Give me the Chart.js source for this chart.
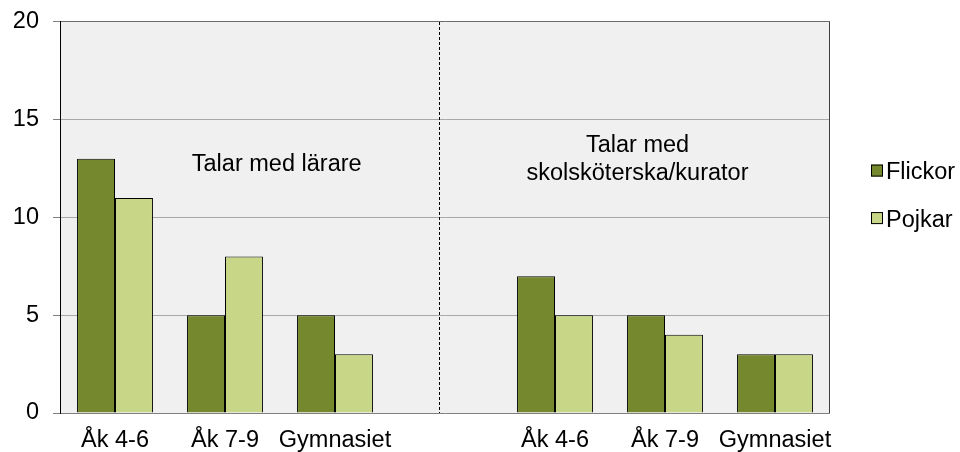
<!DOCTYPE html>
<html>
<head>
<meta charset="utf-8">
<script src="https://cdn.jsdelivr.net/npm/chart.js@4.4.1/dist/chart.umd.min.js"></script>
<style>
  html, body { margin: 0; padding: 0; background: #ffffff; }
  #wrap { width: 960px; height: 452px; }
</style>
</head>
<body>
<div id="wrap"><canvas id="c" width="960" height="452"></canvas></div>
<script>
const categories = ['Åk 4-6', 'Åk 7-9', 'Gymnasiet', '', 'Åk 4-6', 'Åk 7-9', 'Gymnasiet'];
const flickor = [13, 5, 5, null, 7, 5, 3];
const pojkar = [11, 8, 3, null, 5, 4, 3];
const yTicks = [0, 5, 10, 15, 20];
const seriesNames = ['Flickor', 'Pojkar'];
const groupLabels = [['Talar med lärare'], ['Talar med', 'skolsköterska/kurator']];

const FONT = '"Liberation Sans", Arial, sans-serif';
const FS = 23.5;
const colors = ['#76882e', '#c8d787'];

const decorPlugin = {
  id: 'decor',
  beforeDraw(chart) {
    const { ctx, chartArea: a } = chart;
    ctx.save();
    ctx.fillStyle = '#f0f0f0';
    ctx.fillRect(a.left, a.top, a.right - a.left, a.bottom - a.top);
    ctx.restore();
  },
  afterDatasetsDraw(chart) {
    const { ctx, chartArea: a, scales } = chart;
    const xs = scales.x, ys = scales.y;
    ctx.save();
    // right border
    ctx.strokeStyle = '#404040';
    ctx.lineWidth = 1;
    ctx.beginPath();
    ctx.moveTo(Math.round(a.right) - 0.5, a.top);
    ctx.lineTo(Math.round(a.right) - 0.5, a.bottom);
    ctx.stroke();
    // divider
    const dx = Math.round(xs.getPixelForValue(2.945)) + 0.5;
    ctx.strokeStyle = '#000000';
    ctx.setLineDash([3, 2]);
    ctx.beginPath();
    ctx.moveTo(dx, a.top);
    ctx.lineTo(dx, a.bottom);
    ctx.stroke();
    ctx.setLineDash([]);
    // group annotations
    ctx.fillStyle = '#000000';
    ctx.font = FS + 'px ' + FONT;
    ctx.textAlign = 'center';
    ctx.textBaseline = 'alphabetic';
    ctx.fillText(groupLabels[0][0], xs.getPixelForValue(1.47), ys.getPixelForValue(12.4));
    ctx.fillText(groupLabels[1][0], xs.getPixelForValue(4.75), ys.getPixelForValue(13.35));
    ctx.fillText(groupLabels[1][1], xs.getPixelForValue(4.75), ys.getPixelForValue(11.92));
    // legend
    const lx = a.right + 41;
    const ly = [ys.getPixelForValue(12.4), ys.getPixelForValue(9.97)];
    chart.data.datasets.forEach((ds, i) => {
      ctx.fillStyle = ds.backgroundColor;
      ctx.fillRect(lx, ly[i] - 6, 12, 12);
      ctx.strokeStyle = '#000000';
      ctx.lineWidth = 1;
      ctx.strokeRect(lx + 0.5, ly[i] - 5.5, 11, 11);
      ctx.fillStyle = '#000000';
      ctx.textAlign = 'left';
      ctx.textBaseline = 'middle';
      ctx.fillText(ds.label, lx + 15, ly[i] + 2);
    });
    ctx.restore();
  }
};

new Chart(document.getElementById('c'), {
  type: 'bar',
  data: {
    labels: categories,
    datasets: [
      { label: seriesNames[0], data: flickor, backgroundColor: colors[0], borderColor: '#000000', borderWidth: 1 },
      { label: seriesNames[1], data: pojkar, backgroundColor: colors[1], borderColor: '#000000', borderWidth: 1 }
    ]
  },
  options: {
    responsive: false,
    devicePixelRatio: 1,
    animation: false,
    layout: { padding: { left: 0, right: 130, top: 8, bottom: 0 } },
    plugins: { legend: { display: false }, tooltip: { enabled: false } },
    datasets: { bar: { barPercentage: 1.0, categoryPercentage: 0.69 } },
    scales: {
      x: {
        afterFit(scale) { scale.height = 39; },
        grid: { display: false, drawTicks: false },
        border: { display: false },
        ticks: { color: '#000000', font: { family: FONT, size: FS }, padding: 13, maxRotation: 0, autoSkip: false }
      },
      y: {
        min: 0, max: 20,
        afterBuildTicks(scale) { scale.ticks = yTicks.map(v => ({ value: v })); },
        afterFit(scale) { scale.width = 60; },
        grid: {
          color: (c) => (c.tick && c.tick.value === 20) ? '#6a6a6a' : (c.tick && c.tick.value === 0 ? '#808080' : '#a8a8a8'),
          tickColor: '#808080',
          tickLength: 7,
          lineWidth: 1
        },
        border: { display: true, color: '#000000' },
        ticks: { color: '#000000', font: { family: FONT, size: FS, lineHeight: 0.68 }, padding: 14 }
      }
    }
  },
  plugins: [decorPlugin]
});
</script>
</body>
</html>
